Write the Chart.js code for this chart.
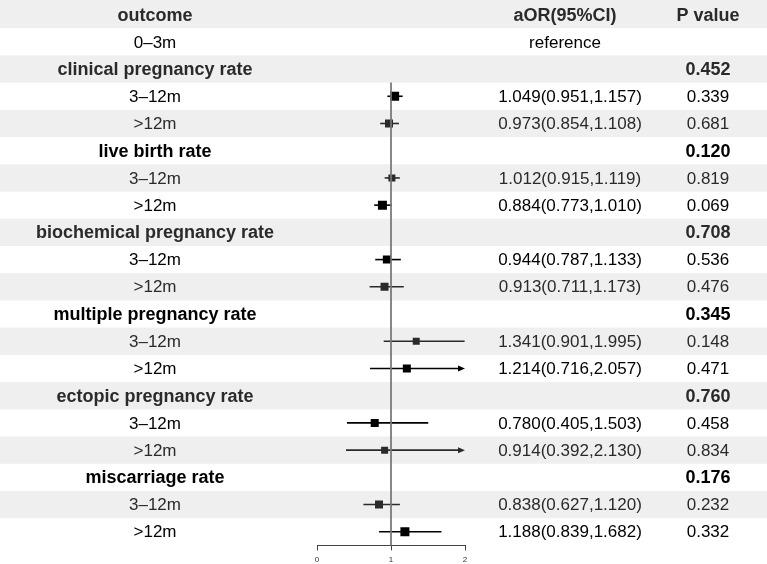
<!DOCTYPE html>
<html>
<head>
<meta charset="utf-8">
<script src="https://cdn.jsdelivr.net/npm/chart.js@4"></script>
<style>
  body { margin: 0; background: #fff; }
  #wrap { width: 767px; height: 564px; }
</style>
</head>
<body>
<div id="wrap"><canvas id="forest" width="767" height="564"></canvas></div>
<script>
// data
const groups = ['clinical pregnancy rate', 'live birth rate', 'biochemical pregnancy rate',
                'multiple pregnancy rate', 'ectopic pregnancy rate', 'miscarriage rate'];
const groupP = ['0.452', '0.120', '0.708', '0.345', '0.760', '0.176'];
const subgroups = ['3–12m', '>12m'];
const aOR   = [1.049, 0.973, 1.012, 0.884, 0.944, 0.913, 1.341, 1.214, 0.780, 0.914, 0.838, 1.188];
const lower = [0.951, 0.854, 0.915, 0.773, 0.787, 0.711, 0.901, 0.716, 0.405, 0.392, 0.627, 0.839];
const upper = [1.157, 1.108, 1.119, 1.010, 1.133, 1.173, 1.995, 2.057, 1.503, 2.130, 1.120, 1.682];
const pSub  = ['0.339', '0.681', '0.819', '0.069', '0.536', '0.476', '0.148', '0.471', '0.458', '0.834', '0.232', '0.332'];
const boxSize = [9, 8, 7, 9, 8, 8, 7, 8, 8, 7, 8, 9];
const xTicks = [0, 1, 2];
const refLabel = '0–3m';

// build table rows
const rows = [{ kind: 'header' }, { kind: 'ref' }];
groups.forEach((g, gi) => {
    rows.push({ kind: 'group', label: g, p: groupP[gi] });
    subgroups.forEach((s, si) => {
        const k = gi * 2 + si;
        rows.push({ kind: 'sub', label: s, k: k });
    });
});
const nRows = rows.length;
const xMax = xTicks[xTicks.length - 1];

const fmt = v => v.toFixed(3);
const FONT = '"Liberation Sans", Arial, sans-serif';
const COL_OUT = 155, COL_OR = 570, COL_P = 708;

const points = [];
rows.forEach((r, i) => {
    if (r.kind === 'sub') points.push({ x: aOR[r.k], y: i, row: i, k: r.k });
});

const rowInk = i => (i % 2 === 0 ? '#2a2a2a' : '#000');

const tablePlugin = {
    id: 'table',
    beforeDraw(chart) {
        const ctx = chart.ctx;
        const y = chart.scales.y;
        ctx.save();
        ctx.fillStyle = '#fff';
        ctx.fillRect(0, 0, chart.width, chart.height);
        ctx.fillStyle = '#efefef';
        for (let i = 0; i < nRows; i += 2) {
            const top = i === 0 ? 0 : y.getPixelForValue(i - 0.5);
            const bot = y.getPixelForValue(i + 0.5);
            ctx.fillRect(0, top, chart.width, bot - top);
        }
        ctx.restore();
    },
    beforeDatasetsDraw(chart) {
        // confidence intervals
        const ctx = chart.ctx;
        const x = chart.scales.x, y = chart.scales.y;
        ctx.save();
        points.forEach(p => {
            const yy = y.getPixelForValue(p.row);
            const hi = Math.min(upper[p.k], xMax);
            const x0 = x.getPixelForValue(lower[p.k]);
            const x1 = x.getPixelForValue(hi);
            ctx.strokeStyle = rowInk(p.row);
            ctx.fillStyle = rowInk(p.row);
            ctx.lineWidth = 1.6;
            ctx.beginPath();
            ctx.moveTo(x0, yy);
            ctx.lineTo(upper[p.k] > xMax ? x1 - 5 : x1, yy);
            ctx.stroke();
            if (upper[p.k] > xMax) {
                ctx.beginPath();
                ctx.moveTo(x1, yy);
                ctx.lineTo(x1 - 7, yy - 3);
                ctx.lineTo(x1 - 7, yy + 3);
                ctx.closePath();
                ctx.fill();
            }
        });
        ctx.restore();
    },
    afterDraw(chart) {
        const ctx = chart.ctx;
        const y = chart.scales.y;
        ctx.save();
        ctx.textAlign = 'center';
        ctx.textBaseline = 'middle';
        rows.forEach((r, i) => {
            const yy = y.getPixelForValue(i) + 1;
            ctx.fillStyle = rowInk(i);
            if (r.kind === 'header') {
                ctx.font = 'bold 18px ' + FONT;
                ctx.fillText('outcome', COL_OUT, yy);
                ctx.fillText('aOR(95%CI)', 565, yy);
                ctx.fillText('P value', COL_P, yy);
            } else if (r.kind === 'ref') {
                ctx.font = '17px ' + FONT;
                ctx.fillText(refLabel, COL_OUT, yy);
                ctx.fillText('reference', 565, yy);
            } else if (r.kind === 'group') {
                ctx.font = 'bold 18px ' + FONT;
                ctx.fillText(r.label, COL_OUT, yy);
                ctx.fillText(r.p, COL_P, yy);
            } else {
                ctx.font = '17px ' + FONT;
                ctx.fillText(r.label, COL_OUT, yy);
                ctx.fillText(fmt(aOR[r.k]) + '(' + fmt(lower[r.k]) + ',' + fmt(upper[r.k]) + ')', COL_OR, yy);
                ctx.fillText(pSub[r.k], COL_P, yy);
            }
        });
        ctx.restore();
    }
};

new Chart(document.getElementById('forest'), {
    type: 'scatter',
    data: {
        datasets: [
            {
                type: 'line',
                data: [{ x: 1, y: 2.5 }, { x: 1, y: nRows - 0.5 }],
                borderColor: '#777',
                borderWidth: 1,
                pointRadius: 0,
                clip: false
            },
            {
                data: points,
                pointStyle: 'rect',
                pointRadius: points.map(p => boxSize[p.k] / Math.SQRT2),
                pointBackgroundColor: points.map(p => rowInk(p.row)),
                pointBorderWidth: 0,
                pointHoverRadius: 0
            }
        ]
    },
    options: {
        responsive: false,
        animation: false,
        events: [],
        layout: { autoPadding: false, padding: { left: 317, right: 302, top: 1, bottom: -6 } },
        plugins: { legend: { display: false }, tooltip: { enabled: false } },
        scales: {
            x: {
                type: 'linear',
                min: xTicks[0],
                max: xMax,
                afterBuildTicks: s => { s.ticks = xTicks.map(v => ({ value: v })); },
                grid: { drawOnChartArea: false, tickLength: 5, color: '#444' },
                border: { color: '#444', width: 1 },
                ticks: { font: { size: 8, family: FONT }, color: '#333', padding: 5, maxRotation: 0 }
            },
            y: {
                type: 'linear',
                display: false,
                reverse: true,
                min: -0.5,
                max: nRows - 0.5
            }
        }
    },
    plugins: [tablePlugin]
});
</script>
</body>
</html>
